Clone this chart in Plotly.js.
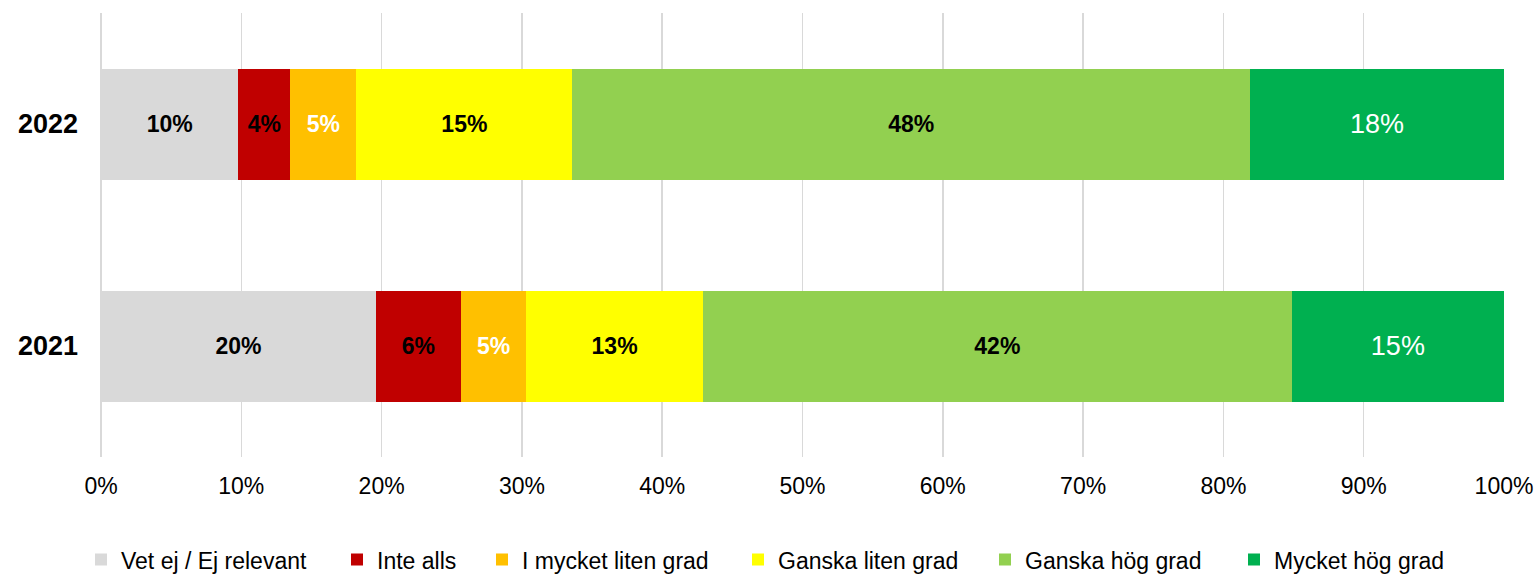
<!DOCTYPE html>
<html>
<head>
<meta charset="utf-8">
<script src="https://cdn.plot.ly/plotly-3.0.1.min.js"></script>
<style>html,body{margin:0;padding:0;background:#fff;}#chart{width:1540px;height:574px;}</style>
</head>
<body>
<div id="chart"></div>
<script>
// Data (percent of respondents)
const years = ['2022', '2021'];
const seriesNames = ['Vet ej / Ej relevant', 'Inte alls', 'I mycket liten grad', 'Ganska liten grad', 'Ganska hög grad', 'Mycket hög grad'];
const vetEj        = [9.8, 19.6];
const inteAlls     = [3.7, 6.05];
const mycketLiten  = [4.7, 4.66];
const ganskaLiten  = [15.4, 12.59];
const ganskaHog    = [48.3, 41.97];
const mycketHog    = [18.1, 15.13];
const tickVals = [0, 10, 20, 30, 40, 50, 60, 70, 80, 90, 100];

const colors = ['#D9D9D9', '#C00000', '#FFC000', '#FFFF00', '#92D050', '#00B050'];
const FAM = 'Liberation Sans, Arial, sans-serif';
const textFonts = [
  {family: FAM, size: 23, color: '#000000', weight: 'bold'},
  {family: FAM, size: 23, color: '#000000', weight: 'bold'},
  {family: FAM, size: 23, color: '#FFFFFF', weight: 'bold'},
  {family: FAM, size: 23, color: '#000000', weight: 'bold'},
  {family: FAM, size: 23, color: '#000000', weight: 'bold'},
  {family: FAM, size: 27, color: '#FFFFFF', weight: 'normal'}
];
const allValues = [vetEj, inteAlls, mycketLiten, ganskaLiten, ganskaHog, mycketHog];

// one legend per series so entries can sit where the original legend has them
const legendIds = ['legend', 'legend2', 'legend3', 'legend4', 'legend5', 'legend6'];
const legendLeftPx = [81, 337, 482, 738, 985, 1234];

const traces = allValues.map((vals, i) => ({
  type: 'bar',
  orientation: 'h',
  name: seriesNames[i],
  legend: legendIds[i],
  y: years,
  x: vals,
  width: 0.5,
  marker: {color: colors[i], line: {width: 0}},
  texttemplate: '%{x:.0f}%',
  textposition: 'inside',
  insidetextanchor: 'middle',
  textangle: 0,
  constraintext: 'none',
  insidetextfont: textFonts[i],
  hoverinfo: 'skip'
}));

const layout = {
  width: 1540,
  height: 574,
  barmode: 'stack',
  paper_bgcolor: '#FFFFFF',
  plot_bgcolor: '#FFFFFF',
  font: {family: FAM, color: '#000000'},
  margin: {l: 101, r: 36, t: 13, b: 117, pad: 0},
  showlegend: true,
  xaxis: {
    range: [0, 100],
    tickvals: tickVals,
    ticktext: tickVals.map(v => v + '%'),
    showgrid: true,
    gridcolor: '#D9D9D9',
    gridwidth: 1.5,
    zeroline: true,
    zerolinecolor: '#D9D9D9',
    zerolinewidth: 1.5,
    showline: false,
    ticks: '',
    ticklabelstandoff: 13,
    tickfont: {size: 23, color: '#000000'},
    fixedrange: true
  },
  yaxis: {
    type: 'category',
    categoryorder: 'array',
    categoryarray: ['2021', '2022'],
    range: [-0.5, 1.5],
    showgrid: false,
    zeroline: false,
    showline: false,
    ticks: '',
    ticklabelstandoff: 22,
    tickfont: {size: 27, color: '#000000', weight: 'bold'},
    fixedrange: true
  }
};

legendIds.forEach((id, i) => {
  layout[id] = {
    orientation: 'h',
    xref: 'container', yref: 'container',
    x: legendLeftPx[i] / 1540, xanchor: 'left',
    y: 0.025, yanchor: 'middle',
    font: {size: 23, color: '#000000'},
    bgcolor: 'rgba(0,0,0,0)',
    itemclick: false, itemdoubleclick: false
  };
});

Plotly.newPlot('chart', traces, layout, {displayModeBar: false, staticPlot: true});
</script>
</body>
</html>
